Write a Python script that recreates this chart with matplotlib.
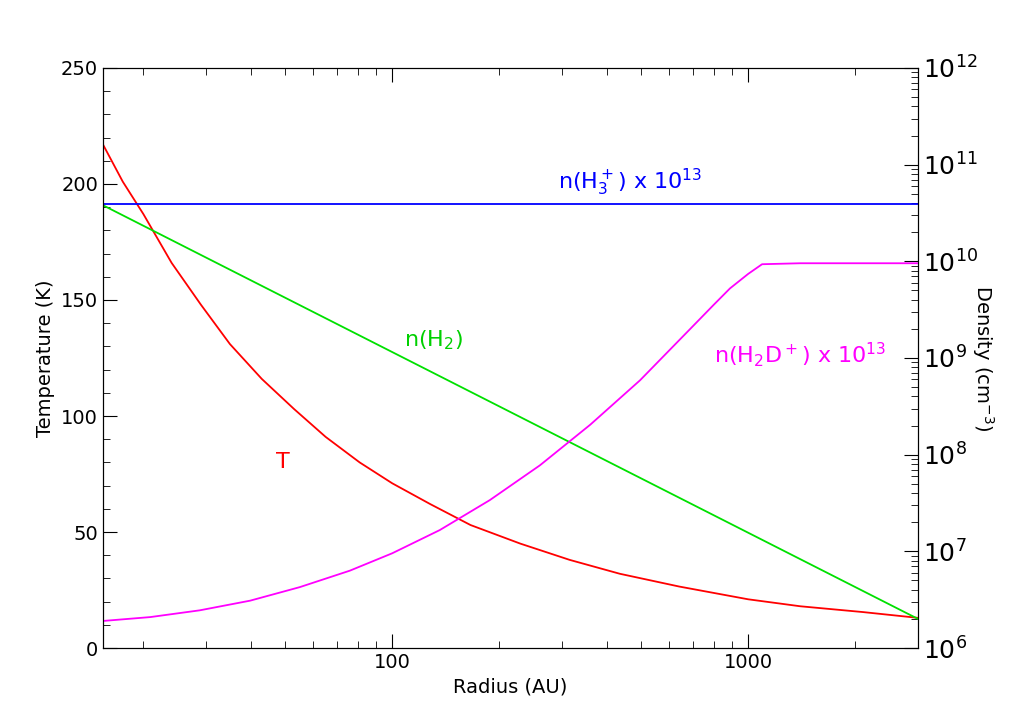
import matplotlib
matplotlib.use("Agg")
import matplotlib.pyplot as plt
import numpy as np

r_T = [15.4,17.5,20,24,29,35,43,53,65,81,100,128,166,229,315,436,640,1000,1400,2100,3000]
T = [217,201,187,166,148,131,116,103,91,80,71,62,53,45,38,32,26.5,21,18,15.5,13]
r_H2 = [15.4,3000]
n_H2 = [3.8e10,2.0e6]
r_H3 = [15.4,3000]
n_H3 = [3.9e10,3.9e10]
r_H2D = [15.4,20.9,28.8,39.9,55,76,100,136,188,260,360,497,687,800,889,1000,1094,1400,3000]
logn_H2D = [6.28,6.32,6.39,6.49,6.63,6.80,6.98,7.22,7.53,7.89,8.31,8.77,9.30,9.55,9.72,9.87,9.97,9.98,9.98]

fig = plt.figure(figsize=(10.24,7.17), dpi=100)
ax = fig.add_axes([0.1006,0.0962,0.7959,0.809])
ax.set_xscale('log')
ax.set_xlim(15.4,3000)
ax.set_ylim(0,250)
ax.plot(r_T,T,color='red',lw=1.3)
ax.set_yticks([0,50,100,150,200,250])
ax.set_yticks(np.arange(0,251,10),minor=True)
ax.set_xticks([100,1000]); ax.set_xticklabels(['100','1000'])
ax.tick_params(which='both',direction='in',top=True,labelsize=14)
ax.tick_params(which='major',length=10)
ax.tick_params(which='minor',length=5)
ax.set_xlabel('Radius (AU)',fontsize=14)
ax.set_ylabel('Temperature (K)',fontsize=14)

ax2 = ax.twinx()
ax2.set_yscale('log')
ax2.set_ylim(1e6,1e12)
ax2.plot(r_H2,n_H2,color='#00e000',lw=1.3)
ax2.plot(r_H3,n_H3,color='blue',lw=1.3)
ax2.plot(r_H2D,10**np.array(logn_H2D),color='magenta',lw=1.3)
ax2.tick_params(which='both',direction='in',labelsize=18)
ax2.tick_params(which='major',length=10)
ax2.tick_params(which='minor',length=5)
ax2.set_ylabel('Density (cm$^{-3}$)',fontsize=14,rotation=-90)
ax2.yaxis.set_label_coords(1.095,0.5)

fig.text(630/1024,1-182/717,'n(H$_3^+$) x 10$^{13}$',color='blue',fontsize=16,ha='center',va='center')
fig.text(433/1024,1-340/717,'n(H$_2$)',color='#00d000',fontsize=16,ha='center',va='center')
fig.text(800/1024,1-355/717,'n(H$_2$D$^+$) x 10$^{13}$',color='magenta',fontsize=16,ha='center',va='center')
fig.text(283/1024,1-462/717,'T',color='red',fontsize=16,ha='center',va='center')
fig.savefig('out.png',dpi=100)
